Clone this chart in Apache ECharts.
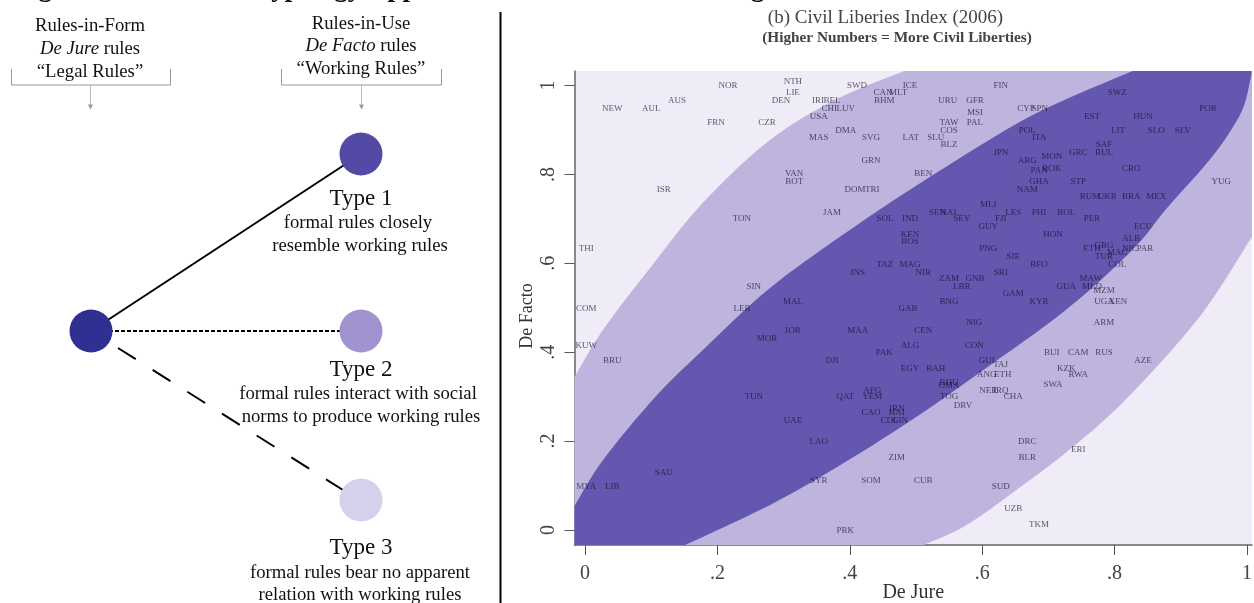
<!DOCTYPE html>
<html><head><meta charset="utf-8">
<style>html,body{margin:0;padding:0;background:#fff}#c{width:1254px;height:603px}</style>
<script src="https://cdn.jsdelivr.net/npm/echarts@6/dist/echarts.min.js"></script>
</head><body><div id="c"></div>
<script>
// Panel (b): country code, de jure, de facto
var countries = [
["NEW",.041,.949],["AUL",.100,.949],["AUS",.139,.965],["NOR",.216,.999],["NTH",.314,1.008],["LIE",.314,.983],["DEN",.296,.965],["IRI",.352,.965],["BEL",.373,.965],["CHI",.369,.949],
["LUV",.394,.949],["USA",.353,.931],["FRN",.198,.916],["CZR",.275,.916],["DMA",.394,.898],["MAS",.353,.882],["SVG",.432,.882],["SWD",.411,.999],["CAN",.450,.983],["MLT",.473,.983],
["BHM",.452,.965],["ICE",.491,.999],["LAT",.492,.882],["GRN",.432,.832],["VAN",.316,.801],["BOT",.316,.783],["ISR",.119,.765],["DOM",.408,.765],["TRI",.434,.765],["JAM",.373,.715],
["TON",.237,.700],["SOL",.453,.700],["IND",.491,.700],["FIN",.628,.999],["URU",.548,.965],["GFR",.589,.965],["MSI",.589,.940],["CYP",.666,.949],["SPN",.687,.949],["SWZ",.804,.983],
["POR",.941,.949],["EST",.766,.931],["HUN",.843,.931],["TAW",.550,.916],["PAL",.589,.916],["COS",.550,.898],["POL",.668,.898],["LIT",.805,.898],["SLO",.863,.898],["SLV",.903,.898],
["SLU",.530,.882],["ITA",.686,.882],["BLZ",.550,.866],["SAF",.784,.866],["JPN",.628,.850],["GRC",.745,.850],["BUL",.784,.850],["MON",.705,.839],["ARG",.668,.832],["ROK",.705,.814],
["PAN",.686,.808],["BEN",.511,.801],["CRO",.825,.814],["GHA",.686,.783],["STP",.745,.783],["YUG",.961,.783],["NAM",.668,.765],["RUM",.763,.749],["UKR",.789,.749],["BRA",.825,.749],
["MEX",.863,.749],["MLI",.609,.731],["SEN",.532,.715],["NAL",.551,.715],["LES",.647,.715],["PHI",.686,.715],["BOL",.727,.715],["SEY",.569,.700],["FJI",.628,.700],["PER",.766,.700],
["GUY",.609,.682],["ECU",.843,.682],["HON",.707,.664],["KEN",.491,.664],["BOS",.491,.648],["ALB",.825,.655],["GRG",.784,.639],["NIC",.823,.632],["PAR",.846,.632],["ETH",.766,.632],
["MAC",.804,.623],["TUR",.784,.614],["COL",.804,.598],["PNG",.609,.632],["SIE",.647,.614],["BFO",.686,.598],["MAG",.491,.598],["NIR",.511,.580],["SRI",.628,.580],["ZAM",.550,.565],
["GNB",.589,.565],["LBR",.569,.547],["MAW",.764,.565],["GUA",.727,.547],["MLD",.766,.547],["MZM",.784,.538],["GAM",.647,.531],["BNG",.550,.513],["KYR",.686,.513],["UGA",.784,.513],
["XEN",.805,.513],["GAB",.488,.499],["NIG",.588,.466],["ARM",.784,.466],["CEN",.511,.448],["ALG",.491,.414],["CON",.588,.414],["BUI",.705,.398],["CAM",.745,.398],["RUS",.784,.398],
["AZE",.843,.380],["GUI",.607,.380],["TAJ",.628,.373],["EGY",.491,.364],["BAH",.530,.364],["KZK",.727,.364],["ANG",.607,.349],["ETH",.631,.349],["RWA",.745,.349],["SWA",.707,.328],
["BHU",.550,.331],["OMA",.550,.324],["NER",.609,.313],["IRQ",.628,.313],["TOG",.550,.299],["CHA",.647,.299],["DRV",.571,.279],["DRC",.668,.198],["BLR",.668,.162],["ERI",.745,.180],
["ZIM",.471,.162],["CUB",.511,.112],["SUD",.628,.097],["UZB",.647,.047],["TKM",.686,.013],["IRN",.471,.272],["HAI",.471,.263],["CDI",.458,.247],["GIN",.476,.247],["THI",.002,.632],
["SIN",.255,.547],["COM",.002,.499],["LEB",.237,.499],["MAL",.314,.513],["INS",.412,.580],["TAZ",.453,.598],["KUW",.002,.414],["BRU",.041,.380],["JOR",.314,.448],["MAA",.412,.448],
["MOR",.275,.430],["PAK",.452,.398],["DJI",.373,.380],["AFG",.434,.313],["YEM",.434,.299],["TUN",.255,.299],["QAT",.393,.299],["CAO",.432,.263],["UAE",.314,.247],["LAO",.353,.198],
["SAU",.119,.128],["SYR",.353,.112],["SOM",.432,.112],["MYA",.002,.097],["LIB",.041,.097],["PRK",.393,-.002]
];
// Band outlines, in (de jure, de facto) units
var outerUpper = [[-.016,.344],[.027,.450],[.098,.589],[.178,.736],[.279,.877],[.381,.970],[.483,1.033]];
var outerLower = [[.511,-.034],[.574,.009],[.647,.085],[.733,.182],[.819,.297],[.929,.481],[1.008,.661]];
var innerUpper = [[-.016,.054],[.027,.157],[.106,.299],[.178,.405],[.279,.544],[.400,.675],[.526,.799],[.677,.934],[.828,1.033]];
var innerLower = [[.151,-.034],[.279,.056],[.381,.142],[.491,.245],[.597,.355],[.728,.497],[.828,.632],[.879,.724],[.937,.821],[.970,.886],[.994,.949],[1.005,1.012],[1.007,1.033]];
var xTicks = [0,.2,.4,.6,.8,1], yTicks = [0,.2,.4,.6,.8,1];
var tickText = {0:"0",0.2:".2",0.4:".4",0.6:".6",0.8:".8",1:"1"};
var xMin=-.0159,xMax=1.0076,yMin=-.0337,yMax=1.0326;

// Panel (a): schematic nodes and connectors
var nodes = [[91,331,"#2E3192"],[361,154,"#534AA6"],[361,331,"#A093CF"],[361,500,"#D7D0EC"]];
var solidLink = [[91,331],[361,154]], dottedLink = [[91,331],[361,331]], dashedLink = [[118,348],[343,490]];
var arrowTips = [[90.5,107],[361.5,107]];

var SERIF = '"Liberation Serif","Times New Roman",serif';
function cr(pts){ // Catmull-Rom through pixel points
  var o=[];for(var i=0;i<pts.length-1;i++){var p0=pts[Math.max(i-1,0)],p1=pts[i],p2=pts[i+1],p3=pts[Math.min(i+2,pts.length-1)];
    for(var k=0;k<8;k++){var t=k/8,a=t*t,b=a*t;o.push([
      .5*(2*p1[0]+(p2[0]-p0[0])*t+(2*p0[0]-5*p1[0]+4*p2[0]-p3[0])*a+(3*p1[0]-p0[0]-3*p2[0]+p3[0])*b),
      .5*(2*p1[1]+(p2[1]-p0[1])*t+(2*p0[1]-5*p1[1]+4*p2[1]-p3[1])*a+(3*p1[1]-p0[1]-3*p2[1]+p3[1])*b)]);}}
  o.push(pts[pts.length-1]);return o;}
function band(upper,corners,lower,color){
  return {type:'custom',xAxisIndex:0,yAxisIndex:0,silent:true,clip:true,z:1,data:[[upper[0][0],upper[0][1]]],
    renderItem:function(p,api){
      var u=cr(upper.map(api.coord)),l=cr(lower.map(api.coord)).reverse(),c=corners.map(api.coord);
      return {type:'polygon',shape:{points:u.concat(c.slice(0,c.length-1),l,c.slice(c.length-1))},style:{fill:color}};
    }};
}
function link(pts,opt){return Object.assign({type:'line',xAxisIndex:1,yAxisIndex:1,data:pts,symbol:'none',silent:true,z:2,animation:false},opt);}
var txt=function(t,x,y,size,extra){return {type:'text',silent:true,z:10,style:Object.assign({text:t,x:x,y:y,align:'center',verticalAlign:'middle',fill:'#111',font:size+'px '+SERIF},extra||{})};};
var ital={i:{fontStyle:'italic',fontSize:18.7,fontFamily:SERIF,fill:'#111'}};
var BODY=18.7;

var axisCommon={axisLine:{show:true,onZero:false,lineStyle:{color:'#666',width:1.5}},
  axisTick:{show:true,length:10,lineStyle:{color:'#555',width:1},alignWithLabel:true},splitLine:{show:false},nameMoveOverlap:false};
var lab={color:'#444',fontFamily:SERIF,fontSize:20,formatter:function(v){return tickText[+(+v).toFixed(1)];}};

var chart=echarts.init(document.getElementById('c'),null,{renderer:'canvas'});
chart.setOption({
  animation:false,backgroundColor:'#fff',
  grid:[{left:574.5,top:71,width:677.5,height:474,show:true,backgroundColor:'#EFECF7',borderWidth:0,outerBoundsMode:'none'},
        {left:0,top:0,width:510,height:603,show:false,outerBoundsMode:'none'}],
  xAxis:[Object.assign({type:'value',gridIndex:0,min:xMin,max:xMax,name:'De Jure',nameLocation:'middle',nameGap:38,
           nameTextStyle:{fontFamily:SERIF,color:'#333',fontSize:20},
           axisLabel:Object.assign({customValues:xTicks,margin:19},lab)},axisCommon,{axisTick:Object.assign({customValues:xTicks},axisCommon.axisTick)}),
         {type:'value',gridIndex:1,min:0,max:510,show:false}],
  yAxis:[Object.assign({type:'value',gridIndex:0,min:yMin,max:yMax,name:'De Facto',nameLocation:'middle',nameGap:38,
           nameTextStyle:{fontFamily:SERIF,color:'#333',fontSize:18,padding:[0,16,0,0]},
           axisLabel:Object.assign({customValues:yTicks,rotate:90,margin:16},lab)},axisCommon,{axisTick:Object.assign({customValues:yTicks},axisCommon.axisTick)}),
         {type:'value',gridIndex:1,min:0,max:603,inverse:true,show:false}],
  series:[
    band(outerUpper,[[xMax,yMax],[xMax,outerLower[outerLower.length-1][1]],[xMin,yMin]],outerLower,'#BEB4DE'),
    band(innerUpper,[[xMin,yMin]],innerLower,'#6357AF'),
    {type:'scatter',xAxisIndex:0,yAxisIndex:0,silent:true,z:5,symbolSize:1,itemStyle:{color:'transparent'},clip:false,
     data:countries.map(function(c){return {value:[c[1],c[2]],name:c[0]};}),
     label:{show:true,position:'inside',formatter:'{b}',fontFamily:SERIF,fontSize:9,color:'rgba(16,11,40,.85)'},labelLayout:{hideOverlap:false}},
    link(solidLink,{lineStyle:{color:'#000',width:2}}),
    link(dottedLink,{lineStyle:{color:'#000',width:2,type:[4,2]}}),
    link(dashedLink,{lineStyle:{color:'#000',width:2,type:[21,20]}}),
    link([[11.5,69],[11.5,85],[170.5,85],[170.5,69]],{lineStyle:{color:'#999',width:1}}),
    link([[281.5,69],[281.5,85],[441.5,85],[441.5,69]],{lineStyle:{color:'#999',width:1}}),
    link([[90.5,85],[90.5,107]],{lineStyle:{color:'#bbb',width:1}}),
    link([[361.5,85],[361.5,107]],{lineStyle:{color:'#bbb',width:1}}),
    link([[500.5,12],[500.5,603]],{lineStyle:{color:'#000',width:2}}),
    {type:'scatter',xAxisIndex:1,yAxisIndex:1,silent:true,z:3,symbol:'triangle',symbolRotate:180,symbolSize:5,itemStyle:{color:'#999',opacity:1},data:arrowTips},
    {type:'scatter',xAxisIndex:1,yAxisIndex:1,silent:true,z:4,symbolSize:43,
     data:nodes.map(function(n){return {value:[n[0],n[1]],itemStyle:{color:n[2],opacity:1}};})}
  ],
  graphic:{elements:[
    txt('Figure 1:',67,-10.5,27,{font:'bold 27px '+SERIF}),
    txt('Typology Applied to',372,-10.5,27,{font:'bold 27px '+SERIF}),
    txt('Working Rules',749,-10.5,27,{font:'bold 27px '+SERIF}),
    txt('Rules-in-Form',90,26,BODY),txt('{i|De Jure} rules',90,49,BODY,{rich:ital}),txt('\u201CLegal Rules\u201D',90,72,BODY),
    txt('Rules-in-Use',361,24,BODY),txt('{i|De Facto} rules',361,46,BODY,{rich:ital}),txt('\u201CWorking Rules\u201D',361,69,BODY),
    txt('Type 1',361,199,23),txt('formal rules closely',358,223,BODY),txt('resemble working rules',360,246,BODY),
    txt('Type 2',361,370,23),txt('formal rules interact with social',358,394,BODY),txt('norms to produce working rules',361,417,BODY),
    txt('Type 3',361,548,23),txt('formal rules bear no apparent',360,573,BODY),txt('relation with working rules',360,595,BODY),
    txt('(b) Civil Liberies Index (2006)',885.5,18,19,{fill:'#444'}),
    txt('(Higher Numbers = More Civil Liberties)',897,38,15.3,{fill:'#444',font:'bold 15.3px '+SERIF})
  ]}
});
</script></body></html>
